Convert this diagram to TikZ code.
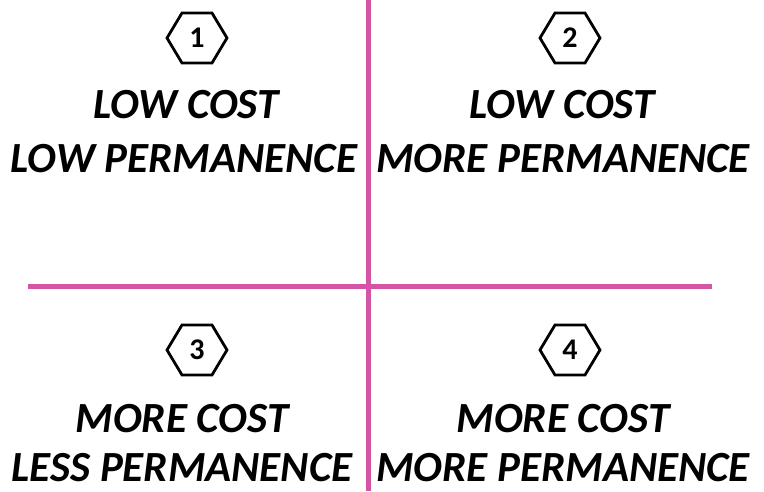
\documentclass[tikz,border=0pt]{standalone}
\usepackage{fontspec}
\setmainfont{Carlito}
\usetikzlibrary{positioning}
\definecolor{quadpink}{RGB}{212,84,166}

\begin{document}
\begin{tikzpicture} [
  x=1pt,
  y=-1pt,
  divider/.style={draw=quadpink,line width=5pt},
  hexline/.style={draw=black,line width=2.8pt,line join=miter},
  numtext/.style={font=\fontsize{30}{32}\selectfont\bfseries,inner sep=0pt},
  quadtext/.style={font=\fontsize{43}{46}\selectfont\bfseries\itshape,anchor=base,inner sep=0pt},
  ]

  \useasboundingbox (0,0) rectangle (764,491);

  % quadrant dividers
  \coordinate (vtop) at (368,0);
  \coordinate (vbot) at (368,491);
  \coordinate (hleft) at (28,286);
  \coordinate (hright) at (712,286);
  \draw[divider] (vtop) -- (vbot);
  \draw[divider] (hleft) -- (hright);

  % numbered hexagons
  \foreach \n/\x/\y in {1/197/38, 2/570/38, 3/197/350, 4/570/350} {
    \node[numtext] (h\n) at (\x,\y) {\n};
    \draw[hexline] ([xshift=-30pt]h\n.center)
      -- ([xshift=-15pt,yshift=25pt]h\n.center)
      -- ([xshift=15pt,yshift=25pt]h\n.center)
      -- ([xshift=30pt]h\n.center)
      -- ([xshift=15pt,yshift=-25pt]h\n.center)
      -- ([xshift=-15pt,yshift=-25pt]h\n.center)
      -- cycle;
  }

  % quadrant labels
  \node[quadtext] (c1) at (186,118) {LOW COST};
  \node[quadtext] (p1) at (184,172) {LOW PERMANENCE};
  \node[quadtext] (c2) at (562,118) {LOW COST};
  \node[quadtext] (p2) at (563,172) {MORE PERMANENCE};
  \node[quadtext] (c3) at (182,432) {MORE COST};
  \node[quadtext] (p3) at (182,481) {LESS PERMANENCE};
  \node[quadtext] (c4) at (563,432) {MORE COST};
  \node[quadtext] (p4) at (563,481) {MORE PERMANENCE};
\end{tikzpicture}
\end{document}
